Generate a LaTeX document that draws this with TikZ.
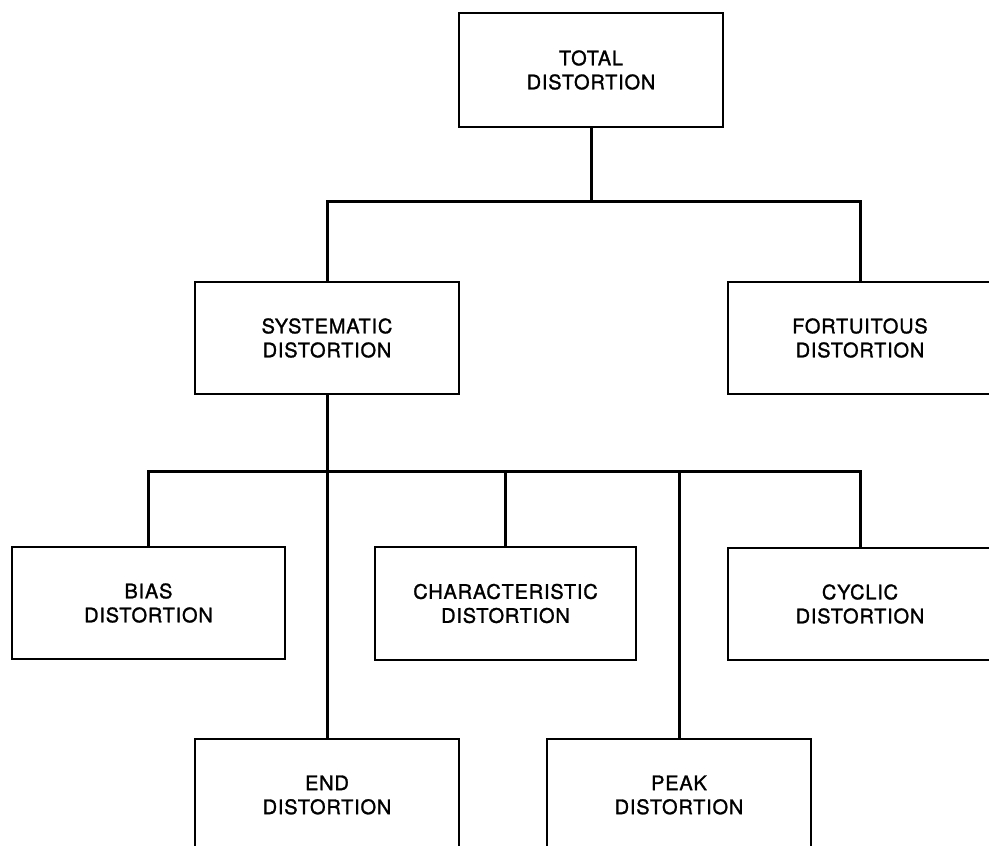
\documentclass[tikz,border=0pt]{standalone}
\usepackage{fontspec}
\setmainfont{TeX Gyre Heros}[LetterSpace=4, FakeBold=1.3]
\usepackage{xcolor}
\usepackage{tikz}
\usetikzlibrary{positioning, calc}
\tikzset{
  distbox/.style={draw=black, line width=1.1pt, fill=white, minimum width=132pt, minimum height=56pt,
    inner sep=0pt, align=center, font=\fontsize{10}{12}\selectfont},
  link/.style={draw=black, line width=1.5pt, line join=miter},
}

\begin{document}
\begin{tikzpicture}[x=0.5pt, y=-0.5pt]
  \useasboundingbox (0,0) rectangle (989,845);
  % boxes
  \node[distbox, minimum height=57pt] (total) at (591,70) {TOTAL\\DISTORTION};
  \node[distbox] (syst) at (327,338) {SYSTEMATIC\\DISTORTION};
  \node[distbox] (fort) at (860,338) {FORTUITOUS\\DISTORTION};
  \node[distbox, minimum width=136.5pt] (bias) at (148.5,603) {BIAS\\DISTORTION};
  \node[distbox, minimum width=130.5pt, minimum height=56.5pt] (charact) at (505.5,603.5) {CHARACTERISTIC\\DISTORTION};
  \node[distbox] (cyclic) at (860,604) {CYCLIC\\DISTORTION};
  \node[distbox] (endd) at (327,795) {END\\DISTORTION};
  \node[distbox] (peak) at (679,795) {PEAK\\DISTORTION};
  \coordinate (topbar) at (0,202);
  \coordinate (lowbar) at (0,471);
  % connectors
  \draw[link] (total.south) -- (total.south |- topbar);
  \draw[link] (syst.north) -- (syst.north |- topbar) -- (fort.north |- topbar) -- (fort.north);
  \draw[link] (syst.south) -- (endd.north);
  \draw[link] (bias.north) -- (bias.north |- lowbar) -- (cyclic.north |- lowbar) -- (cyclic.north);
  \draw[link] (charact.north) -- (charact.north |- lowbar);
  \draw[link] (peak.north) -- (peak.north |- lowbar);
\end{tikzpicture}
\end{document}
